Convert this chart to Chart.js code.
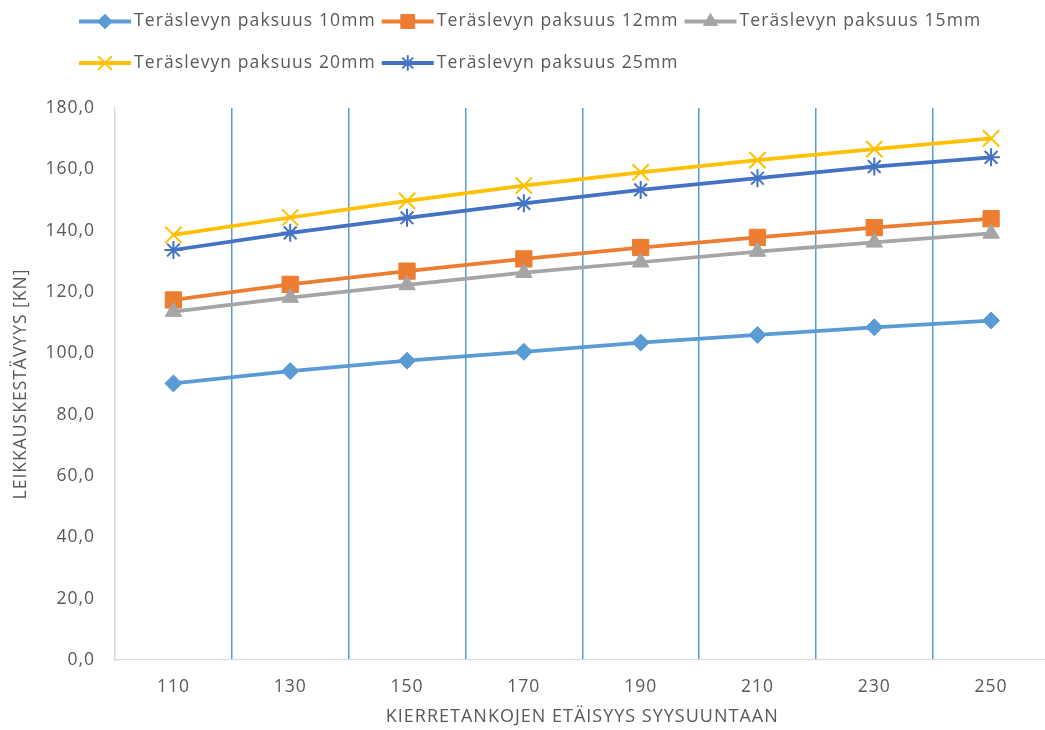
<!DOCTYPE html>
<html lang="fi">
<head>
<meta charset="utf-8">
<title>Leikkauskestävyys</title>
<script src="https://cdn.jsdelivr.net/npm/chart.js@4.4.0/dist/chart.umd.min.js"></script>
<style>
  html, body { margin: 0; padding: 0; background: #ffffff; overflow: hidden; }
  #wrap { width: 1045px; height: 730px; overflow: hidden; position: relative; }
  canvas { display: block; }
</style>
</head>
<body>
<div id="wrap"><canvas id="chart" width="1050" height="730"></canvas></div>
<script>
// Kierretankojen etäisyys syysuuntaan (mm)
const categories = ['110', '130', '150', '170', '190', '210', '230', '250'];

// Leikkauskestävyys [kN] teräslevyn paksuuden mukaan
const plate10mm = [90.2, 94.2, 97.6, 100.5, 103.5, 106.0, 108.5, 110.7];
const plate12mm = [117.4, 122.5, 126.8, 130.8, 134.5, 137.8, 141.0, 143.9];
const plate15mm = [113.6, 118.2, 122.3, 126.3, 129.7, 133.2, 136.2, 139.1];
const plate20mm = [138.6, 144.3, 149.7, 154.7, 159.0, 163.0, 166.6, 170.1];
const plate25mm = [133.7, 139.3, 144.2, 148.9, 153.3, 157.1, 160.9, 163.9];

const seriesNames = [
  'Teräslevyn paksuus 10mm',
  'Teräslevyn paksuus 12mm',
  'Teräslevyn paksuus 15mm',
  'Teräslevyn paksuus 20mm',
  'Teräslevyn paksuus 25mm'
];

// Y-akselin asteikko
const yMin = 0;
const yMax = 180;
const yStep = 20;

const xTitle = 'KIERRETANKOJEN ETÄISYYS SYYSUUNTAAN';
const yTitle = 'LEIKKAUSKESTÄVYYS [KN]';

const textColor = '#595959';
const axisColor = '#d9d9d9';
const gridColor = '#5b9bd5';
const fontFamily = '"Open Sans", "Liberation Sans", Arial, sans-serif';
const fontSize = 17.5;

// Later series are painted above earlier ones
function series(index, label, data, color, style, radius, borderWidth) {
  return {
    label: label,
    data: data,
    order: 10 - index,
    borderColor: color,
    backgroundColor: color,
    borderWidth: 3.75,
    pointStyle: style,
    pointRadius: radius,
    pointHoverRadius: radius,
    pointBackgroundColor: color,
    pointBorderColor: color,
    pointBorderWidth: borderWidth,
    tension: 0,
    fill: false
  };
}

const datasets = [
  series(0, seriesNames[0], plate10mm, '#5b9bd5', 'rectRot', 8.5, 1),
  series(1, seriesNames[1], plate12mm, '#ed7d31', 'rect', 11.5, 1),
  series(2, seriesNames[2], plate15mm, '#a5a5a5', 'triangle', 9.5, 1),
  series(3, seriesNames[3], plate20mm, '#ffc000', 'crossRot', 11.5, 2),
  series(4, seriesNames[4], plate25mm, '#4472c4', 'star', 9, 2)
];

// Slightly widened lettering for all canvas text
const spacingPlugin = {
  id: 'letterSpacing',
  beforeUpdate(chart) { chart.ctx.letterSpacing = '1px'; },
  beforeDraw(chart) { chart.ctx.letterSpacing = '1px'; }
};

// Legend: line sample with the series marker, in two left-aligned rows
const legendRows = [[0, 1, 2], [3, 4]];
const legendPlugin = {
  id: 'lineLegend',
  afterDraw(chart) {
    const ctx = chart.ctx;
    const rowY = [21.5, 63];
    const startX = 79;
    const sampleLen = 52;
    ctx.save();
    ctx.letterSpacing = '1.1px';
    ctx.font = fontSize + 'px ' + fontFamily;
    ctx.textBaseline = 'middle';
    ctx.textAlign = 'left';
    legendRows.forEach((row, r) => {
      let x = startX;
      const y = rowY[r];
      row.forEach(i => {
        const ds = chart.data.datasets[i];
        ctx.strokeStyle = ds.borderColor;
        ctx.lineWidth = 4;
        ctx.lineCap = 'butt';
        ctx.beginPath();
        ctx.moveTo(x, y);
        ctx.lineTo(x + sampleLen, y);
        ctx.stroke();
        ctx.fillStyle = ds.pointBackgroundColor;
        ctx.strokeStyle = ds.pointBorderColor;
        ctx.lineWidth = ds.pointBorderWidth;
        Chart.helpers.drawPoint(ctx, {
          pointStyle: ds.pointStyle,
          radius: ds.pointRadius * 0.85,
          rotation: 0,
          borderWidth: ds.pointBorderWidth
        }, x + sampleLen / 2, y);
        ctx.fillStyle = textColor;
        const tx = x + sampleLen + 3;
        ctx.fillText(ds.label, tx, y);
        x = tx + ctx.measureText(ds.label).width + 6;
      });
    });
    ctx.restore();
  }
};

const fmt = v => Number(v).toFixed(1).replace('.', ',');

new Chart(document.getElementById('chart'), {
  type: 'line',
  data: { labels: categories, datasets: datasets },
  plugins: [spacingPlugin, legendPlugin],
  options: {
    responsive: false,
    animation: false,
    devicePixelRatio: 1,
    layout: {
      autoPadding: false,
      padding: { top: 108, left: 0, right: 0.5, bottom: 0 }
    },
    plugins: {
      legend: { display: false },
      title: { display: false },
      tooltip: { enabled: false }
    },
    scales: {
      x: {
        type: 'category',
        offset: true,
        grid: {
          offset: true,
          drawTicks: false,
          lineWidth: 1.5,
          color: c => (c.index === 0 ? 'rgba(0,0,0,0)' : gridColor)
        },
        border: { display: true, color: axisColor, width: 1.3 },
        ticks: {
          color: textColor,
          padding: 17,
          maxRotation: 0,
          autoSkip: false,
          font: { family: fontFamily, size: fontSize }
        },
        title: {
          display: true,
          text: xTitle,
          color: textColor,
          padding: { top: 0, bottom: 2 },
          font: { family: fontFamily, size: 18 }
        },
        afterFit(scale) { scale.height = 70; }
      },
      y: {
        min: yMin,
        max: yMax,
        grid: { drawOnChartArea: false, drawTicks: false },
        border: { display: true, color: axisColor, width: 1.3 },
        ticks: {
          stepSize: yStep,
          color: textColor,
          padding: 20,
          font: { family: fontFamily, size: fontSize },
          callback: v => fmt(v)
        },
        title: {
          display: true,
          text: yTitle,
          color: textColor,
          padding: { top: 11, bottom: 0 },
          font: { family: fontFamily, size: fontSize }
        },
        afterFit(scale) { scale.width = 115; }
      }
    }
  }
});
</script>
</body>
</html>
